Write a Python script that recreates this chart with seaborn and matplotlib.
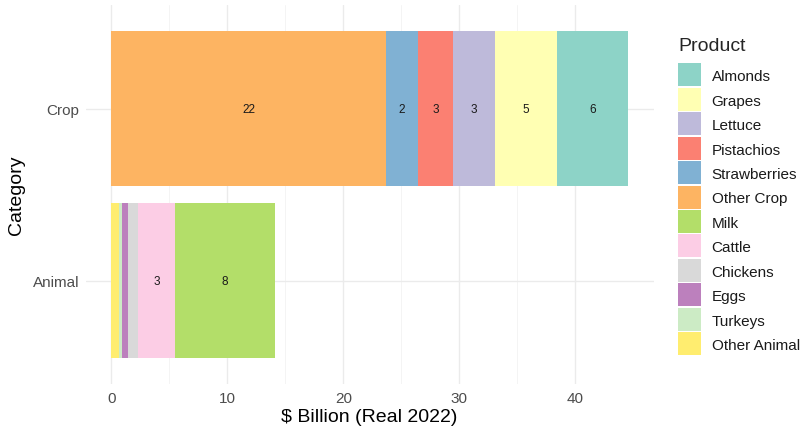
import pandas as pd
import matplotlib
matplotlib.use("Agg")
import matplotlib.pyplot as plt
import seaborn as sns
from matplotlib.patches import Rectangle

# values ($ billion, real 2022)
categories = ["Crop", "Animal"]
crop_products = ["Almonds", "Grapes", "Lettuce", "Pistachios", "Strawberries", "Other Crop"]
crop_values = [6.1, 5.35, 3.6, 3.08, 2.7, 23.7]
crop_labels = ["6", "5", "3", "3", "2", "22"]
animal_products = ["Milk", "Cattle", "Chickens", "Eggs", "Turkeys", "Other Animal"]
animal_values = [8.6, 3.19, 0.86, 0.52, 0.26, 0.69]
animal_labels = ["8", "3", "", "", "", ""]
x_ticks = [0, 10, 20, 30, 40]

products = crop_products + animal_products
colors = ["#8DD3C7", "#FFFFB3", "#BEBADA", "#FB8072", "#80B1D3", "#FDB462",
          "#B3DE69", "#FCCDE5", "#D9D9D9", "#BC80BD", "#CCEBC5", "#FFED6F"]
palette = dict(zip(products, colors))

df = pd.DataFrame({
    "Category": ["Crop"] * len(crop_products) + ["Animal"] * len(animal_products),
    "Product": products,
    "Value": crop_values + animal_values,
    "Label": crop_labels + animal_labels,
})

sns.set_theme(style="whitegrid")
plt.rcParams["font.family"] = ["Liberation Sans", "DejaVu Sans"]

W, H = 805, 427
fig = plt.figure(figsize=(W / 100, H / 100), dpi=100)
ax_l, ax_r, ax_t, ax_b = 85.5, 653.7, 6.2, 385
ax = fig.add_axes([ax_l / W, 1 - ax_b / H, (ax_r - ax_l) / W, (ax_b - ax_t) / H])

sns.histplot(data=df, y="Category", weights="Value", hue="Product",
             hue_order=products, palette=palette, multiple="stack",
             discrete=True, shrink=0.9, alpha=1, linewidth=0, ax=ax)
ax.get_legend().remove()

# labels in the middle of each stacked segment
for i, cat in enumerate(categories):
    sub = df[df["Category"] == cat].iloc[::-1]
    left = 0.0
    for _, row in sub.iterrows():
        if row["Label"]:
            ax.text(left + row["Value"] / 2, i, row["Label"], ha="center",
                    va="center", fontsize=8.5, color="#1A1A1A")
        left += row["Value"]

total = max(sum(crop_values), sum(animal_values))
ax.set_xlim(-0.05 * total, total * 1.05)
ax.set_ylim(1.6, -0.6)
ax.set_xticks(x_ticks)
ax.set_xticklabels([str(t) for t in x_ticks])
ax.set_yticks([0, 1])
ax.set_yticklabels(categories)
ax.set_xticks([5, 15, 25, 35], minor=True)

ax.grid(True, which="major", color="#EBEBEB", linewidth=1.0)
ax.grid(True, which="minor", axis="x", color="#F2F2F2", linewidth=0.6)
ax.set_axisbelow(True)
for s in ax.spines.values():
    s.set_visible(False)
ax.tick_params(axis="both", which="both", length=0, labelcolor="#4D4D4D",
               labelsize=11)
ax.tick_params(axis="x", pad=5)
ax.tick_params(axis="y", pad=4.5)

ax.set_xlabel(r"\$ Billion (Real 2022)", fontsize=14, color="black", va="baseline")
ax.set_ylabel("Category", fontsize=14, color="black", va="center")
ax.xaxis.set_label_coords(0.5, (ax_b - 422.5) / (ax_b - ax_t))
ax.yaxis.set_label_coords((16 - ax_l) / (ax_r - ax_l), (ax_b - 195) / (ax_b - ax_t))

# legend drawn as keys + labels in figure pixel positions
fig.text(678 / W, 1 - 51 / H, "Product", fontsize=14, va="baseline", ha="left")
for i, p in enumerate(products):
    top = 64.3 + i * 24.45
    fig.add_artist(Rectangle((678 / W, 1 - (top + 23) / H), 23 / W, 23 / H,
                             transform=fig.transFigure, facecolor=palette[p],
                             edgecolor="none"))
    fig.text(711.7 / W, 1 - (top + 11.5 + 5.4) / H, p, fontsize=11,
             va="baseline", ha="left", color="#1A1A1A")

fig.savefig("out.png", dpi=100)
